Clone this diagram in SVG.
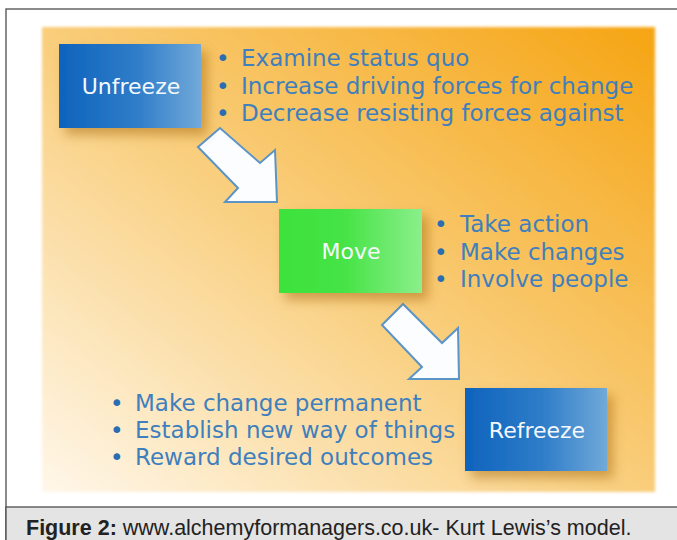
<svg xmlns="http://www.w3.org/2000/svg" width="677" height="540" viewBox="0 0 677 540">
<defs>
  <linearGradient id="panel" x1="0" y1="1" x2="1" y2="0">
    <stop offset="0" stop-color="#fff7ea"/>
    <stop offset="0.45" stop-color="#f9d184"/>
    <stop offset="1" stop-color="#f6a412"/>
  </linearGradient>
  <linearGradient id="blue" x1="0" y1="0" x2="1" y2="0">
    <stop offset="0" stop-color="#0e63bd"/>
    <stop offset="0.55" stop-color="#2f7dc9"/>
    <stop offset="1" stop-color="#71a9d9"/>
  </linearGradient>
  <linearGradient id="green" x1="0" y1="0" x2="1" y2="0">
    <stop offset="0" stop-color="#3de23d"/>
    <stop offset="0.45" stop-color="#45e345"/>
    <stop offset="1" stop-color="#8bef8b"/>
  </linearGradient>
  <filter id="shadow" x="-20%" y="-20%" width="150%" height="160%">
    <feDropShadow dx="6" dy="7" stdDeviation="6" flood-color="#9a5a00" flood-opacity="0.45"/>
  </filter>
  <filter id="soft" x="-5%" y="-5%" width="110%" height="110%">
    <feGaussianBlur stdDeviation="1.5"/>
  </filter>
</defs>
<style>
  .frame { fill: #ffffff; stroke: #4d4d4d; stroke-width: 1.3; }
  .caption-bg { fill: #e4e4e4; stroke: #4d4d4d; stroke-width: 1.3; }
  .caption { font-family: "Liberation Sans", Arial, sans-serif; font-size: 21.5px; fill: #222222; }
  .box-label { font-family: "DejaVu Sans", Verdana, sans-serif; font-size: 22px; fill: #f4f8fc; text-anchor: middle; }
  .bullets { font-family: "DejaVu Sans", Verdana, sans-serif; font-size: 23px; fill: #3f7fbd; }
  .dot { fill: #2a6db3; }
  .arrow { fill: #fbfdff; stroke: #5b94c6; stroke-width: 2; stroke-linejoin: miter; }
</style>

<rect class="frame" x="6" y="9" width="680" height="540"/>
<rect class="caption-bg" x="6" y="507" width="680" height="40"/>
<text class="caption" x="26" y="535"><tspan font-weight="bold">Figure 2:</tspan> www.alchemyformanagers.co.uk- Kurt Lewis’s model.</text>

<rect x="42" y="27" width="613" height="465" fill="url(#panel)" filter="url(#soft)"/>

<g id="connectors">
  <polygon class="arrow" points="198,147 220,128 260,163 275,150 277,202 225,202 238,188"/>
  <polygon class="arrow" points="382,325 403,304 442,343 458,328 459,379 409,379 422,367"/>
</g>

<g id="unfreeze">
  <rect x="59" y="44" width="142" height="84" fill="url(#blue)" filter="url(#shadow)"/>
  <text class="box-label" x="131" y="94">Unfreeze</text>
  <text class="bullets"><tspan class="dot" x="216" y="66">•</tspan><tspan x="241" y="66">Examine status quo</tspan></text>
  <text class="bullets"><tspan class="dot" x="216" y="93.5">•</tspan><tspan x="241" y="93.5">Increase driving forces for change</tspan></text>
  <text class="bullets"><tspan class="dot" x="216" y="121">•</tspan><tspan x="241" y="121">Decrease resisting forces against</tspan></text>
</g>

<g id="move">
  <rect x="279" y="209" width="143" height="84" fill="url(#green)" filter="url(#shadow)"/>
  <text class="box-label" x="351" y="259">Move</text>
  <text class="bullets"><tspan class="dot" x="434" y="232">•</tspan><tspan x="460" y="232">Take action</tspan></text>
  <text class="bullets"><tspan class="dot" x="434" y="259.5">•</tspan><tspan x="460" y="259.5">Make changes</tspan></text>
  <text class="bullets"><tspan class="dot" x="434" y="287">•</tspan><tspan x="460" y="287">Involve people</tspan></text>
</g>

<g id="refreeze">
  <rect x="465" y="388" width="142" height="83" fill="url(#blue)" filter="url(#shadow)"/>
  <text class="box-label" x="537" y="438">Refreeze</text>
  <text class="bullets"><tspan class="dot" x="110" y="411">•</tspan><tspan x="135" y="411">Make change permanent</tspan></text>
  <text class="bullets"><tspan class="dot" x="110" y="438">•</tspan><tspan x="135" y="438">Establish new way of things</tspan></text>
  <text class="bullets"><tspan class="dot" x="110" y="465">•</tspan><tspan x="135" y="465">Reward desired outcomes</tspan></text>
</g>
</svg>
